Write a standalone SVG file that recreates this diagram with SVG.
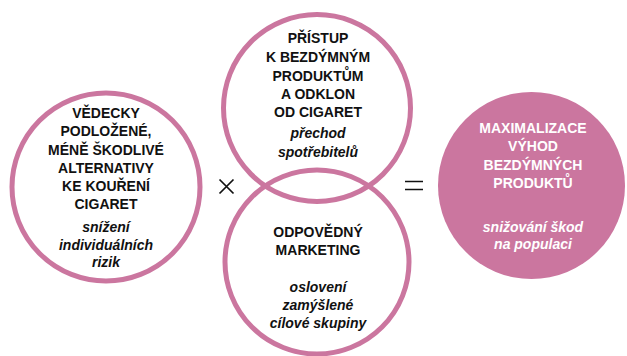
<svg xmlns="http://www.w3.org/2000/svg" width="627" height="356" viewBox="0 0 627 356">
<style>
.c{fill:none;stroke:#cb769f;stroke-width:5}
.f{fill:#cb769f;stroke:none}
text{font-family:"Liberation Sans",Arial,sans-serif;font-size:14px;font-weight:bold;text-anchor:middle;fill:#111}
.i{font-style:italic}
.w{fill:#fff}
.op{stroke:#111;stroke-width:1.7;fill:none}
</style>
<rect width="627" height="356" fill="#fff"/>
<g id="left">
<circle class="c" cx="106" cy="187" r="94"/>
<text x="106" y="118">VĚDECKY</text>
<text x="106" y="136">PODLOŽENÉ,</text>
<text x="106" y="155">MÉNĚ ŠKODLIVÉ</text>
<text x="106" y="173">ALTERNATIVY</text>
<text x="106" y="191">KE KOUŘENÍ</text>
<text x="106" y="209">CIGARET</text>
<text class="i" x="106" y="232">snížení</text>
<text class="i" x="106" y="250">individuálních</text>
<text class="i" x="106" y="267">rizik</text>
</g>
<g id="top">
<circle class="c" cx="317" cy="108" r="93.5"/>
<text x="318" y="43">PŘÍSTUP</text>
<text x="318" y="62">K BEZDÝMNÝM</text>
<text x="318" y="81">PRODUKTŮM</text>
<text x="318" y="99">A ODKLON</text>
<text x="318" y="117">OD CIGARET</text>
<text class="i" x="318" y="138">přechod</text>
<text class="i" x="318" y="157">spotřebitelů</text>
</g>
<g id="bottom">
<circle class="c" cx="317" cy="262" r="92"/>
<text x="318" y="237">ODPOVĚDNÝ</text>
<text x="318" y="255">MARKETING</text>
<text class="i" x="318" y="292">oslovení</text>
<text class="i" x="318" y="310">zamýšlené</text>
<text class="i" x="318" y="328">cílové skupiny</text>
</g>
<g id="result">
<circle class="f" cx="531.5" cy="185.5" r="93.5"/>
<text class="w" x="533" y="133">MAXIMALIZACE</text>
<text class="w" x="533" y="151">VÝHOD</text>
<text class="w" x="533" y="170">BEZDÝMNÝCH</text>
<text class="w" x="533" y="188">PRODUKTŮ</text>
<text class="w i" x="533" y="232">snižování škod</text>
<text class="w i" x="533" y="249">na populaci</text>
</g>
<g id="connectors">
<path class="op" d="M219.5 179.5 L233.5 193.5 M233.5 179.5 L219.5 193.5"/>
<path class="op" d="M405 181.5 H423 M405 189.5 H423"/>
</g>
</svg>
